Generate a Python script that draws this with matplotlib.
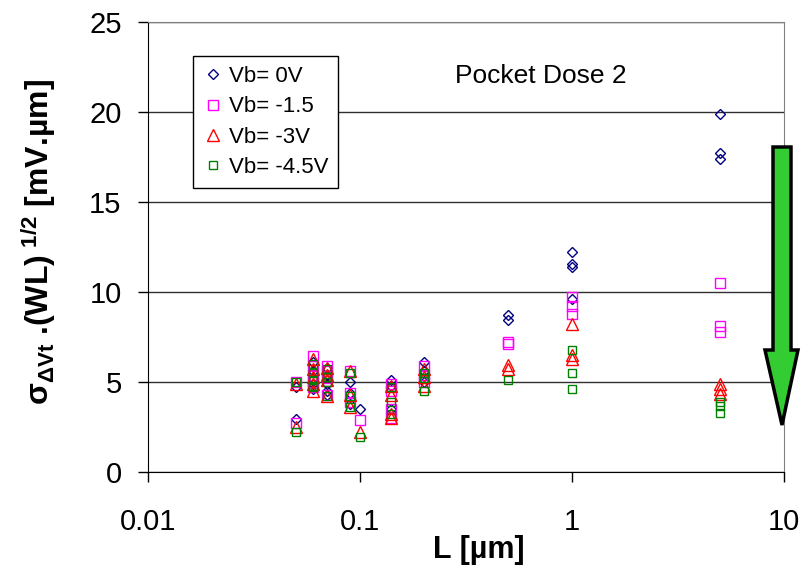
import matplotlib
matplotlib.use('Agg')
import matplotlib.pyplot as plt
from matplotlib.patches import Polygon
from matplotlib.ticker import NullLocator

plt.rcParams['font.family'] = ['Liberation Sans', 'DejaVu Sans']
plt.rcParams['mathtext.fontset'] = 'custom'
plt.rcParams['mathtext.rm'] = 'Liberation Sans'
plt.rcParams['mathtext.bf'] = 'Liberation Sans:bold'
plt.rcParams['mathtext.default'] = 'bf'

# data: gate length L [um] and sigma*sqrt(WL) [mV.um] for each back bias
L_0V = [0.05, 0.05, 0.06, 0.06, 0.06, 0.06, 0.06, 0.07, 0.07, 0.07, 0.07, 0.07,
        0.09, 0.09, 0.09, 0.1, 0.14, 0.14, 0.14, 0.2, 0.2, 0.2,
        0.5, 0.5, 1, 1, 1, 1, 5, 5, 5]
s_0V = [4.7, 2.95, 6.1, 5.6, 5.2, 4.9, 4.6, 5.8, 5.4, 4.9, 4.5, 4.3,
        5.0, 4.4, 3.8, 3.5, 5.1, 4.8, 3.5, 6.1, 5.6, 5.0,
        8.7, 8.45, 12.25, 11.55, 11.4, 9.6, 19.9, 17.75, 17.4]

L_15V = [0.05, 0.05, 0.06, 0.06, 0.06, 0.06, 0.06, 0.07, 0.07, 0.07, 0.07,
         0.09, 0.09, 0.09, 0.1, 0.14, 0.14, 0.14, 0.14, 0.2, 0.2, 0.2,
         0.5, 0.5, 1, 1, 1, 5, 5, 5]
s_15V = [5.0, 2.7, 6.45, 5.9, 5.4, 5.0, 4.7, 5.9, 5.6, 5.2, 4.3,
         5.6, 4.4, 3.9, 2.9, 4.9, 4.5, 3.5, 3.0, 5.9, 5.4, 5.0,
         7.25, 7.1, 9.7, 9.2, 8.8, 10.5, 8.1, 7.8]

L_3V = [0.05, 0.05, 0.06, 0.06, 0.06, 0.06, 0.06, 0.07, 0.07, 0.07, 0.07,
        0.09, 0.09, 0.09, 0.1, 0.14, 0.14, 0.14, 0.14, 0.2, 0.2, 0.2,
        0.5, 0.5, 1, 1, 1, 5, 5, 5]
s_3V = [4.9, 2.5, 6.3, 5.7, 5.3, 4.9, 4.5, 5.8, 5.4, 5.1, 4.2,
        5.6, 4.3, 3.6, 2.2, 4.8, 4.3, 3.2, 3.0, 5.7, 5.3, 4.8,
        5.95, 5.75, 8.2, 6.5, 6.3, 4.9, 4.6, 4.35]

L_45V = [0.05, 0.05, 0.06, 0.06, 0.06, 0.06, 0.06, 0.07, 0.07, 0.07, 0.07,
         0.09, 0.09, 0.09, 0.1, 0.14, 0.14, 0.14, 0.2, 0.2, 0.2,
         0.5, 1, 1, 1, 5, 5, 5]
s_45V = [5.0, 2.25, 6.0, 5.5, 5.1, 4.8, 4.7, 5.7, 5.3, 5.0, 4.2,
         5.5, 4.2, 3.6, 1.95, 4.7, 3.9, 3.2, 5.5, 5.2, 4.5,
         5.1, 6.8, 5.5, 4.6, 3.9, 3.65, 3.3]

labels = ['Vb= 0V', 'Vb= -1.5', 'Vb= -3V', 'Vb= -4.5V']
y_ticks = [0, 5, 10, 15, 20, 25]
x_ticks = [0.01, 0.1, 1, 10]
x_ticklabels = ['0.01', '0.1', '1', '10']

W, H = 802, 570
fig = plt.figure(figsize=(W / 100, H / 100), dpi=100)
ax = fig.add_axes([148 / W, 1 - 472 / H, (784 - 148) / W, (472 - 22) / H])

ax.plot(L_0V, s_0V, linestyle='none', marker='D', ms=5.6, mfc='none', mec='#000080', mew=1.0, label=labels[0])
ax.plot(L_15V, s_15V, linestyle='none', marker='s', ms=7.5, mfc='none', mec='#FF00FF', mew=1.0, label=labels[1])
ax.plot(L_3V, s_3V, linestyle='none', marker='^', ms=8.5, mfc='none', mec='#FF0000', mew=1.0, label=labels[2])
ax.plot(L_45V, s_45V, linestyle='none', marker='s', ms=6, mfc='none', mec='#008000', mew=1.0, label=labels[3])

ax.set_xscale('log')
ax.set_xlim(0.01, 10)
ax.set_ylim(0, 25)
ax.set_xticks(x_ticks)
ax.set_xticklabels(x_ticklabels)
ax.xaxis.set_minor_locator(NullLocator())
ax.set_yticks(y_ticks)
ax.tick_params(axis='both', direction='out', length=7, width=1, colors='black', labelsize=21)
ax.tick_params(axis='x', pad=19)
ax.tick_params(axis='y', pad=12)
ax.grid(axis='y', color='#303030', linewidth=1)
ax.set_axisbelow(True)
for side in ['left', 'bottom']:
    ax.spines[side].set_color('black')
for side in ['top', 'right']:
    ax.spines[side].set_color('#808080')

leg = fig.legend(loc='upper left', bbox_to_anchor=(193 / W, 1 - 56 / H), fontsize=16,
                 frameon=True, fancybox=False, edgecolor='black', framealpha=1,
                 handletextpad=0.25, handlelength=0.9, labelspacing=0.42, borderpad=0.45,
                 borderaxespad=0)
leg.get_frame().set_linewidth(1.0)

fig.text(455 / W, 1 - 83 / H, 'Pocket Dose 2', fontsize=19, va='baseline', ha='left')
fig.text(479 / W, 1 - 550 / H, 'L [µm]', fontsize=22, fontweight='bold', ha='center', va='center')
fig.text(39 / W, 1 - 242 / H, 'σ$_{ΔVt}$ .(WL)$^{\\ 1/2}$ [mV.µm]', fontsize=23, fontweight='bold',
         rotation=90, ha='center', va='center')

# big green arrow at the right edge
arrow_px = [(773, 147), (791, 147), (791, 350), (798, 350), (782, 425), (765, 350), (773, 350)]
arrow = Polygon([(x / W, 1 - y / H) for x, y in arrow_px], closed=True, transform=fig.transFigure,
                facecolor='#33CC33', edgecolor='black', linewidth=2.5, zorder=10)
fig.add_artist(arrow)

fig.savefig('out.png', dpi=100)
